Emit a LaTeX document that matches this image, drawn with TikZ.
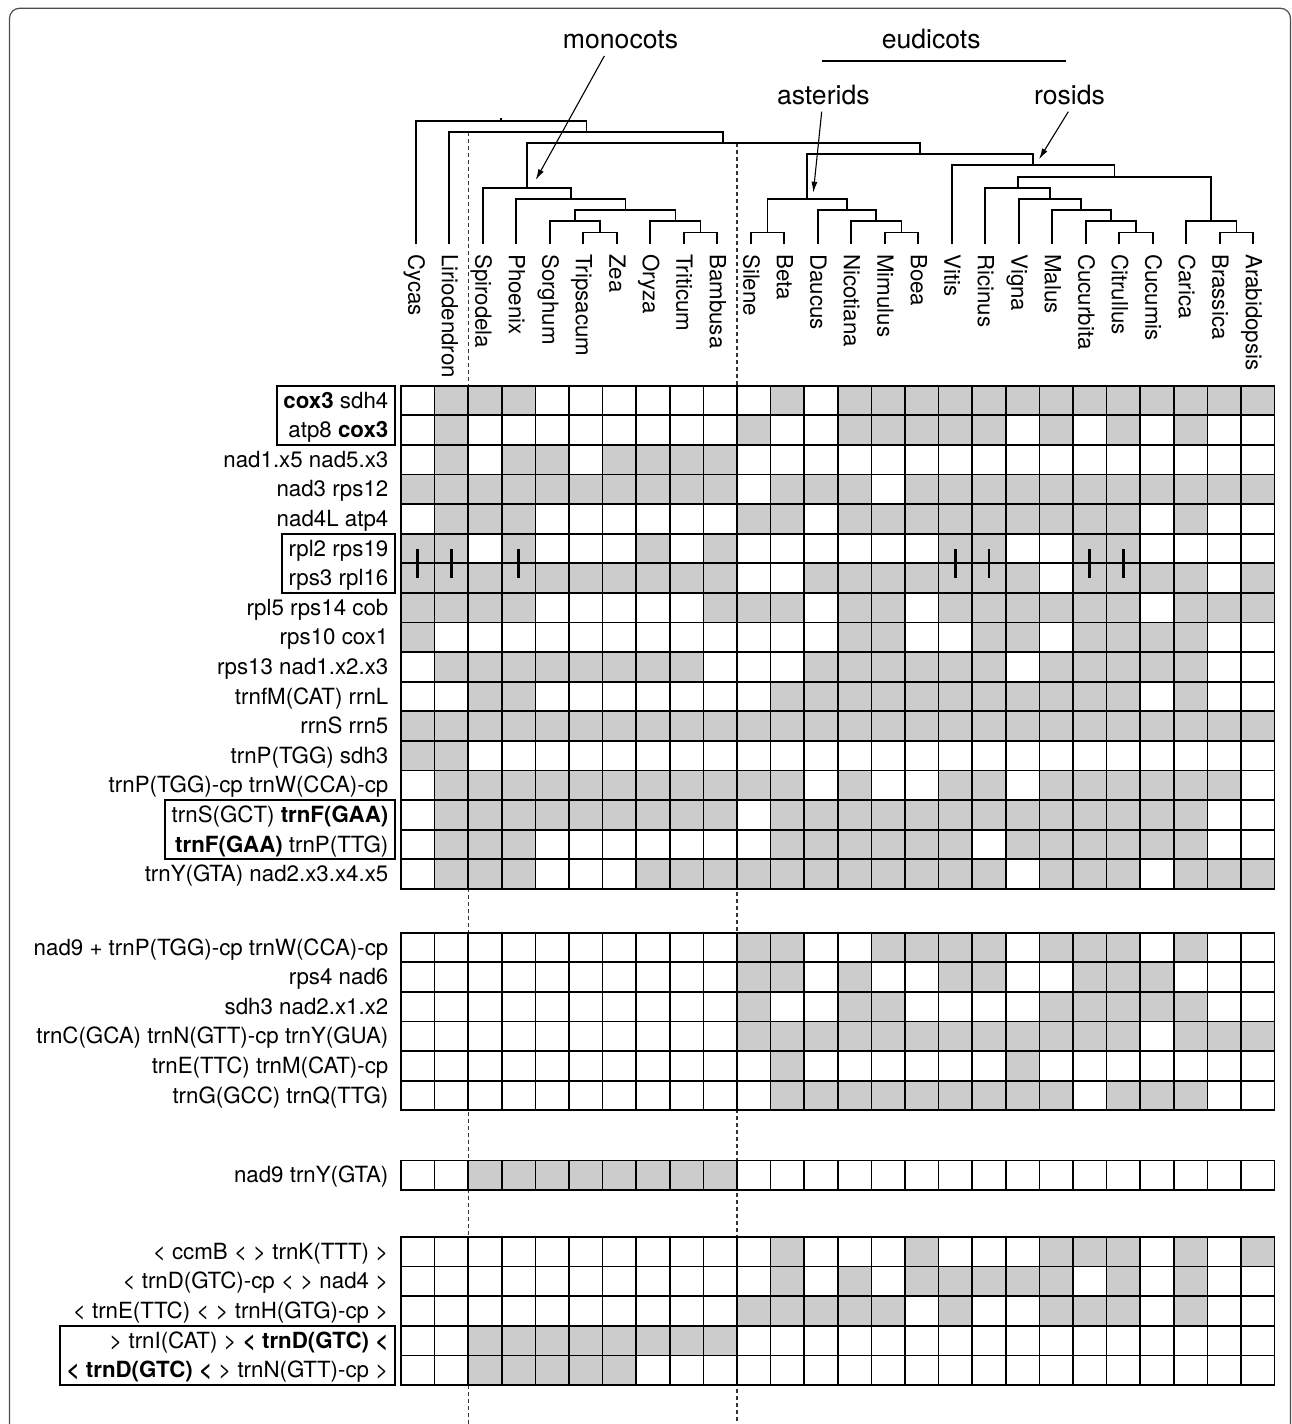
\documentclass[tikz,border=0pt]{standalone}
\usepackage{fontspec}
\setmainfont{TeX Gyre Heros}
\usetikzlibrary{arrows.meta,fit}
\definecolor{cellgray}{gray}{0.8}

\newcommand{\generow}[4]{%
  \node[genelab] (#1) at (388.5,#2+22.3) {#3};
  \foreach \val [count=\col from 0] in {#4} {
    \ifnum\val=1 \def\cellfill{cellgray}\else\def\cellfill{white}\fi
    \draw[cell,fill=\cellfill] ({401+33.6*\col},#2) rectangle ++(33.6,29.6);
  }%
}

\begin{document}
\begin{tikzpicture}[x=1pt,y=-1pt,
    genelab/.style={anchor=base east,inner sep=0pt,font=\fontsize{22.3}{26}\selectfont},
    taxon/.style={rotate=-90,anchor=base west,inner sep=0pt,font=\fontsize{22.3}{26}\selectfont},
    clade/.style={anchor=base,inner sep=0pt,font=\fontsize{26.6}{30}\selectfont},
    branch/.style={line width=1.7pt},
    cell/.style={line width=1.7pt},
    genebox/.style={draw,line width=1.8pt,inner sep=0pt},
    cut/.style={line width=2.8pt},
    divider/.style={draw=black!80,line width=1.1pt,dash pattern=on 4pt off 3pt},
    pointer/.style={line width=1.1pt,-{Latex[length=11pt,width=6pt]}}]
  \useasboundingbox (0,0) rectangle (1292,1424);
  \draw[draw=black!70,line width=1.2pt,rounded corners=10pt]
    (9.5,1440) -- (9.5,8.3) -- (1290.5,8.3) -- (1290.5,1440);

  \draw[divider] (468.2,131.8) -- (468.2,1424);
  \draw[divider] (737,143) -- (737,1424);

  % taxa
  \foreach \t [count=\n] in {Cycas,Liriodendron,Spirodela,Phoenix,Sorghum,
      Tripsacum,Zea,Oryza,Triticum,Bambusa,Silene,Beta,Daucus,Nicotiana,
      Mimulus,Boea,Vitis,Ricinus,Vigna,Malus,Cucurbita,Citrullus,Cucumis,
      Carica,Brassica,Arabidopsis} {
    \coordinate (\t) at ({382.25+33.5*\n},243.5);
    \node[taxon] (\t-name) at ({374.75+33.5*\n},254) {\t};
  }

  % tree
  \coordinate (R0) at (501,120.7);
  \coordinate (N1) at (586.5,131.8);
  \coordinate (N2) at (723.3,143);
  \coordinate (Mono) at (526.7,187.8);
  \coordinate (M1) at (570.8,199.1);
  \coordinate (M2) at (625.5,210.2);
  \coordinate (M3) at (575,221.3);
  \coordinate (M4) at (675.5,221.3);
  \coordinate (M5) at (600,232.5);
  \coordinate (M6) at (700.5,232.5);
  \coordinate (Eud) at (920,154.3);
  \coordinate (Ast) at (807.3,199.1);
  \coordinate (A1) at (767.5,232.5);
  \coordinate (A2) at (847,210.2);
  \coordinate (A3) at (876.3,221.3);
  \coordinate (A4) at (901.5,232.5);
  \coordinate (Ros) at (1033,165.3);
  \coordinate (R1) at (1114.5,176.7);
  \coordinate (R2) at (1017.7,187.8);
  \coordinate (R3) at (1050,199.1);
  \coordinate (R4) at (1081.3,210.2);
  \coordinate (R5) at (1110.7,221.3);
  \coordinate (R6) at (1211,221.3);
  \coordinate (R7) at (1136,232.5);
  \coordinate (R8) at (1236.5,232.5);
  \draw[branch] (R0) -- ++(0,-3);
  \foreach \p/\q in {R0/Cycas,R0/N1,N1/Liriodendron,N1/N2,N2/Mono,N2/Eud,
      Mono/Spirodela,Mono/M1,M1/Phoenix,M1/M2,M2/M3,M2/M4,M3/Sorghum,M3/M5,
      M5/Tripsacum,M5/Zea,M4/Oryza,M4/M6,M6/Triticum,M6/Bambusa,
      Eud/Ast,Eud/Ros,Ast/A1,Ast/A2,A1/Silene,A1/Beta,A2/Daucus,A2/A3,
      A3/Nicotiana,A3/A4,A4/Mimulus,A4/Boea,
      Ros/Vitis,Ros/R1,R1/R2,R1/R6,R2/Ricinus,R2/R3,R3/Vigna,R3/R4,
      R4/Malus,R4/R5,R5/Cucurbita,R5/R7,R7/Citrullus,R7/Cucumis,
      R6/Carica,R6/R8,R8/Brassica,R8/Arabidopsis}
    \draw[branch] (\p) -| (\q);

  \node[clade] (monocots) at (620.5,48.3) {monocots};
  \node[clade] (eudicots) at (931.2,48.3) {eudicots};
  \node[clade] (asterids) at (823.3,104) {asterids};
  \node[clade] (rosids) at (1069.5,104) {rosids};
  \draw[branch] (822.3,60.7) -- (1066,60.7);
  \coordinate (monohead) at (535.7,180);
  \coordinate (asthead) at (813.3,192.7);
  \coordinate (roshead) at (1039,159.3);
  \draw[pointer] ([xshift=-16.2pt,yshift=-7.7pt]monocots.base) -- (monohead);
  \draw[pointer] ([xshift=-1.6pt,yshift=-7.7pt]asterids.base) -- (asthead);
  \draw[pointer] ([xshift=-1.2pt,yshift=-7.7pt]rosids.base) -- (roshead);

  % genes
  \generow{a1}{385.7}{\textbf{cox3} sdh4}{0,1,1,1,0,0,0,0,0,0,0,1,0,1,1,1,1,1,1,1,1,1,1,1,1,1}
  \generow{a2}{415.3}{atp8 \textbf{cox3}}{0,1,0,0,0,0,0,0,0,0,1,0,0,1,1,1,1,1,0,1,0,1,0,1,0,0}
  \generow{a3}{444.9}{nad1.x5 nad5.x3}{0,1,0,1,1,0,1,1,1,1,0,0,0,0,0,0,0,0,0,0,0,0,0,0,0,0}
  \generow{a4}{474.5}{nad3 rps12}{1,1,1,1,1,1,1,1,1,1,0,1,1,1,0,1,1,1,1,1,1,1,1,1,1,1}
  \generow{a5}{504.1}{nad4L atp4}{0,1,1,1,0,0,0,0,0,0,1,1,0,1,1,1,1,1,1,1,1,1,0,1,0,0}
  \generow{a6}{533.7}{rpl2 rps19}{1,1,0,1,0,0,0,1,0,1,0,0,0,0,0,0,1,1,0,0,1,1,0,0,0,0}
  \generow{a7}{563.3}{rps3 rpl16}{1,1,1,1,1,1,1,1,1,1,0,0,1,1,1,1,1,1,1,0,1,1,1,1,0,1}
  \generow{a8}{592.9}{rpl5 rps14 cob}{1,1,1,1,0,0,0,0,0,1,1,1,0,1,1,0,1,1,1,1,1,1,0,1,1,1}
  \generow{a9}{622.5}{rps10 cox1}{1,0,0,0,0,0,0,0,0,0,0,0,0,1,1,0,0,1,1,0,1,1,1,1,0,0}
  \generow{a10}{652.1}{rps13 nad1.x2.x3}{0,1,1,1,1,1,1,1,1,0,0,0,1,1,1,1,1,1,0,1,1,1,1,1,0,0}
  \generow{a11}{681.7}{trnfM(CAT) rrnL}{0,0,1,1,0,0,0,0,0,0,0,1,1,1,1,1,1,1,1,1,1,1,0,1,0,0}
  \generow{a12}{711.3}{rrnS rrn5}{1,1,1,1,1,1,1,1,1,1,1,1,1,1,1,1,1,1,1,1,1,1,1,1,1,1}
  \generow{a13}{740.9}{trnP(TGG) sdh3}{1,1,0,0,0,0,0,0,0,0,0,0,0,0,0,0,0,0,0,0,0,0,0,0,0,0}
  \generow{a14}{770.5}{trnP(TGG)-cp trnW(CCA)-cp}{0,1,1,1,1,1,1,1,1,1,1,1,0,1,0,0,1,1,0,1,1,1,1,1,1,0}
  \generow{a15}{800.1}{trnS(GCT) \textbf{trnF(GAA)}}{0,1,1,1,1,1,1,1,1,1,0,1,1,1,1,1,1,1,1,1,1,1,1,1,0,0}
  \generow{a16}{829.7}{\textbf{trnF(GAA)} trnP(TTG)}{0,1,1,1,0,0,0,0,0,0,0,1,1,1,1,1,1,0,1,1,1,1,1,1,0,0}
  \generow{a17}{859.3}{trnY(GTA) nad2.x3.x4.x5}{0,1,1,1,0,0,0,1,1,1,1,1,1,1,1,1,1,1,0,1,1,1,0,1,1,1}

  \generow{b1}{932.7}{nad9 + trnP(TGG)-cp trnW(CCA)-cp}{0,0,0,0,0,0,0,0,0,0,1,1,0,0,1,1,1,1,0,1,1,1,0,1,0,0}
  \generow{b2}{962.3}{rps4 nad6}{0,0,0,0,0,0,0,0,0,0,1,1,0,1,0,0,1,1,0,0,1,1,1,0,0,0}
  \generow{b3}{991.9}{sdh3 nad2.x1.x2}{0,0,0,0,0,0,0,0,0,0,1,0,0,1,1,0,0,0,0,1,1,1,1,1,0,0}
  \generow{b4}{1021.5}{trnC(GCA) trnN(GTT)-cp trnY(GUA)}{0,0,0,0,0,0,0,0,0,0,1,1,1,1,1,1,1,1,1,1,1,1,0,1,1,1}
  \generow{b5}{1051.1}{trnE(TTC) trnM(CAT)-cp}{0,0,0,0,0,0,0,0,0,0,0,1,0,0,0,0,0,0,1,0,0,0,0,0,0,0}
  \generow{b6}{1080.7}{trnG(GCC) trnQ(TTG)}{0,0,0,0,0,0,0,0,0,0,0,1,1,1,1,1,1,1,1,1,0,1,1,1,0,0}

  \generow{c1}{1160.4}{nad9 trnY(GTA)}{0,0,1,1,1,1,1,1,1,1,0,0,0,0,0,0,0,0,0,0,0,0,0,0,0,0}

  \generow{d1}{1237}{< ccmB < > trnK(TTT) >}{0,0,0,0,0,0,0,0,0,0,0,1,0,0,0,1,0,0,0,1,1,1,0,1,0,1}
  \generow{d2}{1266.6}{< trnD(GTC)-cp < > nad4 >}{0,0,0,0,0,0,0,0,0,0,0,1,0,1,0,1,1,1,1,1,0,1,0,1,0,0}
  \generow{d3}{1296.2}{< trnE(TTC) < > trnH(GTG)-cp >}{0,0,0,0,0,0,0,0,0,0,1,1,1,1,1,0,1,0,0,1,1,1,0,1,0,0}
  \generow{d4}{1325.8}{> trnI(CAT) > \textbf{< trnD(GTC) <}}{0,0,1,1,1,1,1,1,1,1,0,0,0,0,0,0,0,0,0,0,0,0,0,0,0,0}
  \generow{d5}{1355.4}{\textbf{< trnD(GTC) <} > trnN(GTT)-cp >}{0,0,1,1,1,1,1,0,0,0,0,0,0,0,0,0,0,0,0,0,0,0,0,0,0,0}

  \foreach \col in {1,2,4,17,18,21,22}
    \draw[cut] ({384.2+33.6*\col},549) -- ++(0,28.6);

  \node[genebox,fit={([xshift=-6.5pt]a1.west) ([xshift=-6.5pt]a2.west) (395,385.7) (395,444.9)}] (box1) {};
  \node[genebox,fit={([xshift=-6.5pt]a6.west) ([xshift=-6.5pt]a7.west) (395,533.7) (395,592.9)}] (box2) {};
  \node[genebox,fit={([xshift=-6.5pt]a15.west) ([xshift=-6.5pt]a16.west) (395,800.1) (395,859.3)}] (box3) {};
  \node[genebox,fit={([xshift=-6.5pt]d4.west) ([xshift=-6.5pt]d5.west) (395,1325.8) (395,1385)}] (box4) {};
\end{tikzpicture}
\end{document}
